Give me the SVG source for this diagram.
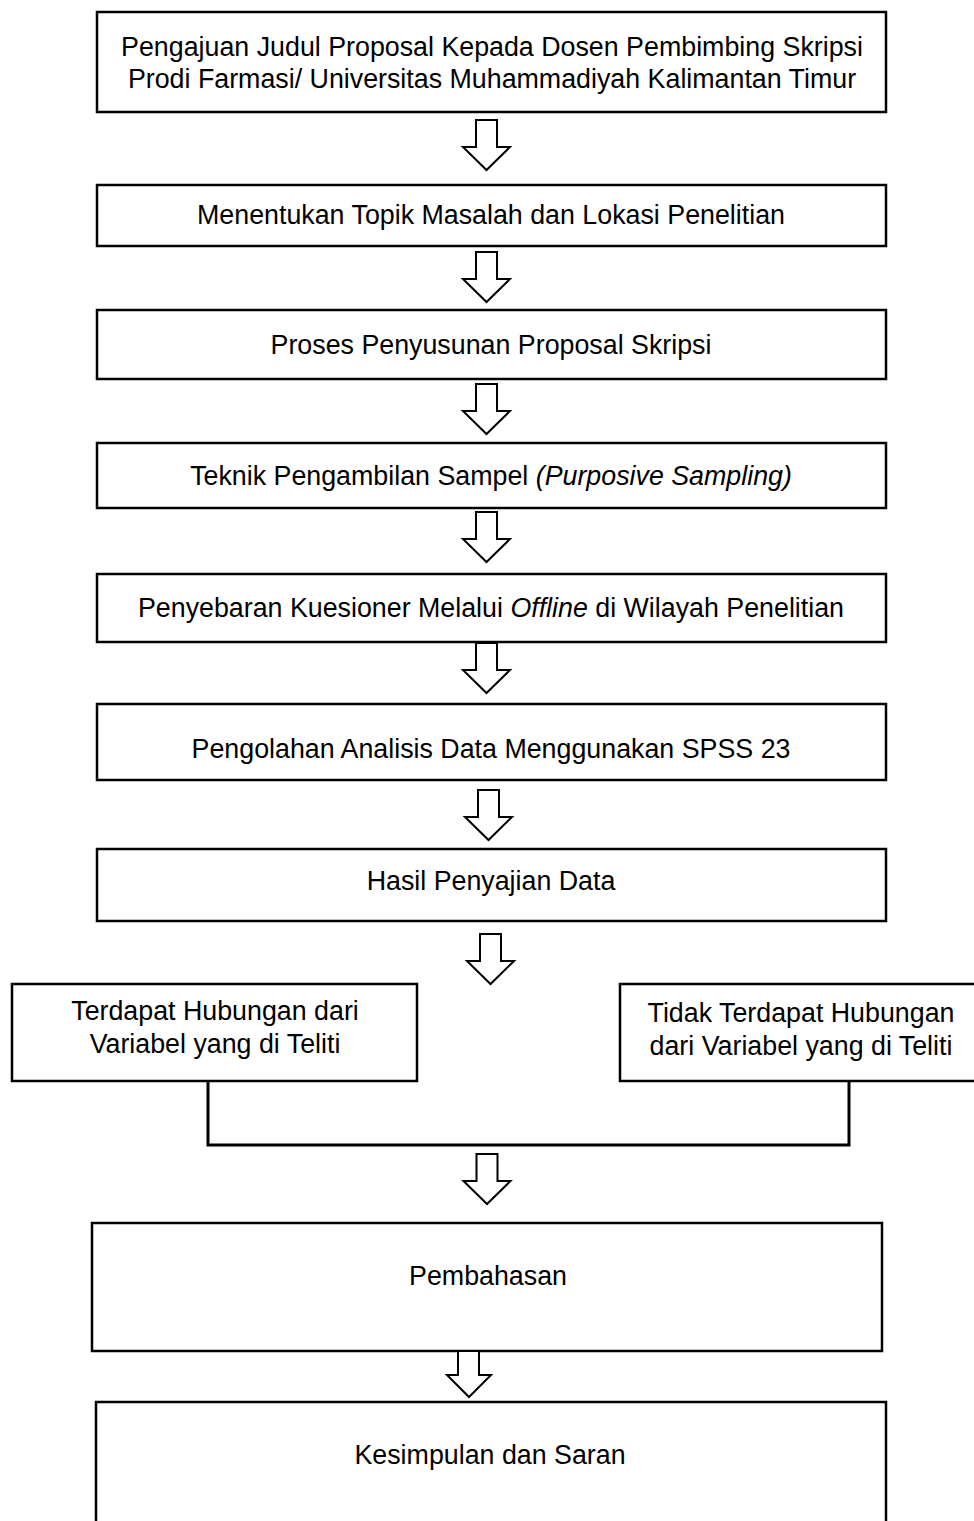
<svg xmlns="http://www.w3.org/2000/svg" width="974" height="1521" viewBox="0 0 974 1521">
<style>
.box{fill:#fff;stroke:#000;stroke-width:2.5}
.t{font-family:"Liberation Sans",Arial,sans-serif;font-size:26.8px;fill:#000;text-anchor:middle}
.arr{fill:#fff;stroke:#000;stroke-width:2;stroke-linejoin:miter}
.con{fill:none;stroke:#000;stroke-width:3}
</style>
<defs>
<path id="down" class="arr" d="M-10.5,0 H10.5 V27 H23.5 L0,50 L-23.5,27 H-10.5 Z"/>
</defs>
<rect width="974" height="1521" fill="#fff"/>
<g id="n1"><rect class="box" x="97" y="12" width="789" height="100"/>
<text class="t" x="492" y="56">Pengajuan Judul Proposal Kepada Dosen Pembimbing Skripsi</text>
<text class="t" x="492" y="88">Prodi Farmasi/ Universitas Muhammadiyah Kalimantan Timur</text></g>
<g id="n2"><rect class="box" x="97" y="185" width="789" height="61"/>
<text class="t" x="491" y="224">Menentukan Topik Masalah dan Lokasi Penelitian</text></g>
<g id="n3"><rect class="box" x="97" y="310" width="789" height="69"/>
<text class="t" x="491" y="354">Proses Penyusunan Proposal Skripsi</text></g>
<g id="n4"><rect class="box" x="97" y="443" width="789" height="65"/>
<text class="t" x="491" y="485">Teknik Pengambilan Sampel <tspan font-style="italic">(Purposive Sampling)</tspan></text></g>
<g id="n5"><rect class="box" x="97" y="574" width="789" height="68"/>
<text class="t" x="491" y="617">Penyebaran Kuesioner Melalui <tspan font-style="italic">Offline</tspan> di Wilayah Penelitian</text></g>
<g id="n6"><rect class="box" x="97" y="704" width="789" height="76"/>
<text class="t" x="491" y="758">Pengolahan Analisis Data Menggunakan SPSS 23</text></g>
<g id="n7"><rect class="box" x="97" y="849" width="789" height="72"/>
<text class="t" x="491" y="890">Hasil Penyajian Data</text></g>
<g id="n8"><rect class="box" x="12" y="984" width="405" height="97"/>
<text class="t" x="215" y="1020">Terdapat Hubungan dari</text>
<text class="t" x="215" y="1053">Variabel yang di Teliti</text></g>
<g id="n9"><rect class="box" x="620" y="984" width="360" height="97"/>
<text class="t" x="801" y="1022">Tidak Terdapat Hubungan</text>
<text class="t" x="801" y="1055">dari Variabel yang di Teliti</text></g>
<g id="n10"><rect class="box" x="92" y="1223" width="790" height="128"/>
<text class="t" x="488" y="1285">Pembahasan</text></g>
<g id="n11"><path class="box" d="M96,1530 V1402 H886 V1530"/>
<text class="t" x="490" y="1464">Kesimpulan dan Saran</text></g>
<g id="connectors">
<use href="#down" x="486.5" y="120"/>
<use href="#down" x="486.5" y="252"/>
<use href="#down" x="486.5" y="384"/>
<use href="#down" x="486.5" y="512"/>
<use href="#down" x="486.5" y="643"/>
<use href="#down" x="488.5" y="790"/>
<use href="#down" x="490.5" y="934"/>
<use href="#down" x="487" y="1154"/>
<path class="arr" d="M458,1351 H479 V1375 H491 L469,1397 L447,1375 H458 Z"/>
<path class="con" d="M208,1081 V1145 H849 V1081"/>
</g>
</svg>
